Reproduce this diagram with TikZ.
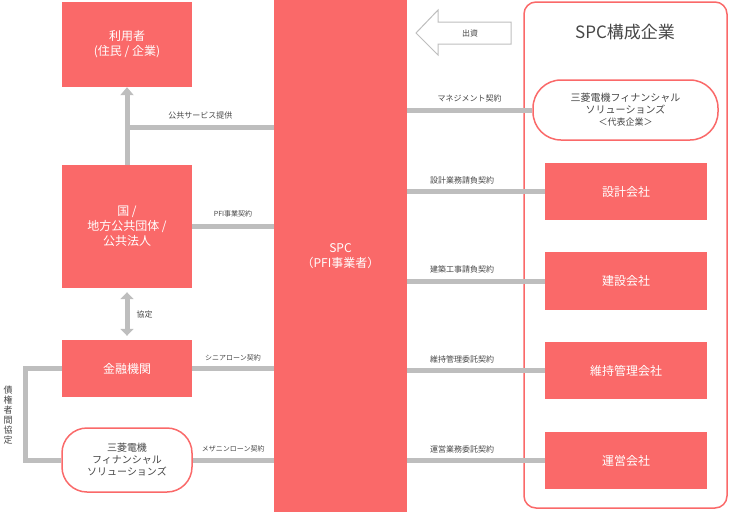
\documentclass[tikz,border=0pt]{standalone}
\usepackage{fontspec}
\setmainfont{Noto Sans CJK JP}
\usetikzlibrary{positioning,calc,shapes,arrows.meta}
\definecolor{salmon}{RGB}{250,105,105}
\definecolor{linegray}{RGB}{190,190,190}
\definecolor{txtgray}{RGB}{70,70,70}
\tikzset{
  redbox/.style={fill=salmon,text=white,align=center,font=\fontsize{12}{15}\selectfont},
  pillbox/.style={draw=salmon,line width=1.5pt,fill=white,rounded corners=25pt,align=center,text=txtgray,font=\fontsize{10}{12}\selectfont},
  link/.style={draw=linegray,line width=5pt},
  lbl/.style={text=txtgray,font=\fontsize{8}{10}\selectfont,inner sep=1pt}
}
\begin{document}
\begin{tikzpicture}[x=1pt,y=-1pt,>=latex]
            \useasboundingbox (0,0) rectangle (729,512);

            % left column
            \node[redbox,minimum width=130pt,minimum height=85pt] (user) at (127,44.5) {利用者\\(住民 / 企業)};
            \node[redbox,minimum width=130pt,minimum height=123pt] (gov) at (127,226.5) {国 /\\地方公共団体 /\\公共法人};
            \node[redbox,minimum width=130pt,minimum height=57pt] (bank) at (127,368.5) {金融機関};
            \node[pillbox,minimum width=130pt,minimum height=64pt] (mfs) at (127,460) {三菱電機\\フィナンシャル\\ソリューションズ};

            % SPC
            \node[redbox,minimum width=133pt,minimum height=512pt] (spc) at (340.5,256) {SPC\\（PFI事業者）};

            % right frame
            \draw[salmon,line width=1.5pt,rounded corners=12pt] (524,2) rectangle (727,508);
            \node[text=txtgray,font=\fontsize{17}{20}\selectfont] (title) at (625,32) {SPC構成企業};
            \node[pillbox,minimum width=185pt,minimum height=60pt,rounded corners=28pt] (rep) at (625.5,110) {三菱電機フィナンシャル\\ソリューションズ\\{\fontsize{9}{11}\selectfont ＜代表企業＞}};
            \node[redbox,minimum width=162pt,minimum height=57pt] (design) at (626,191.5) {設計会社};
            \node[redbox,minimum width=162pt,minimum height=58pt] (build) at (626,281) {建設会社};
            \node[redbox,minimum width=162pt,minimum height=57pt] (maint) at (626,370.5) {維持管理会社};
            \node[redbox,minimum width=162pt,minimum height=57pt] (oper) at (626,460.5) {運営会社};

            % right links
            \draw[link] (spc.east |- rep) -- (rep.west) node[lbl,midway,above=4pt] {マネジメント契約};
            \draw[link] (spc.east |- design) -- (design.west) node[lbl,pos=0.4,above=4pt] {設計業務請負契約};
            \draw[link] (spc.east |- build) -- (build.west) node[lbl,pos=0.4,above=4pt] {建築工事請負契約};
            \draw[link] (spc.east |- maint) -- (maint.west) node[lbl,pos=0.4,above=4pt] {維持管理委託契約};
            \draw[link] (spc.east |- oper) -- (oper.west) node[lbl,pos=0.4,above=4pt] {運営業務委託契約};

            % left links
            \coordinate (svc) at (127,127);
            \draw[link,-{Triangle[length=8pt,width=13pt]}] (gov.north) -- (user.south);
            \draw[link] (svc) -- (spc.west |- svc) node[lbl,midway,above=4pt] {公共サービス提供};
            \draw[link] (gov.east) -- (spc.west |- gov.east) node[lbl,midway,above=6pt,font=\fontsize{7}{9}\selectfont] {PFI事業契約};
            \draw[link] (bank.east) -- (spc.west |- bank.east) node[lbl,midway,above=4pt,font=\fontsize{7}{9}\selectfont] {シニアローン契約};
            \draw[link] (mfs.east) -- (spc.west |- mfs.east) node[lbl,midway,above=4pt,font=\fontsize{7}{9}\selectfont] {メザニンローン契約};
            \draw[link,{Triangle[length=7pt,width=13pt]}-{Triangle[length=7pt,width=13pt]}] ($(gov.south)+(0,4)$) -- ($(bank.north)+(0,-4)$) node[lbl,midway,right=6pt] {協定};
            \draw[link] (bank.west) -- (25,368.5) -- (25,460) -- (mfs.west);
            \node[lbl,align=center,font=\fontsize{9}{10}\selectfont] (inter) at (8,415) {債\\権\\者\\間\\協\\定};

            % hollow arrow
            \draw[linegray,line width=1pt,fill=white] (416,33) -- (438,10) -- (438,22) -- (511,22) -- (511,44) -- (438,44) -- (438,55) -- cycle;
            \node[lbl] (fund) at (470,33) {出資};
\end{tikzpicture}
\end{document}
